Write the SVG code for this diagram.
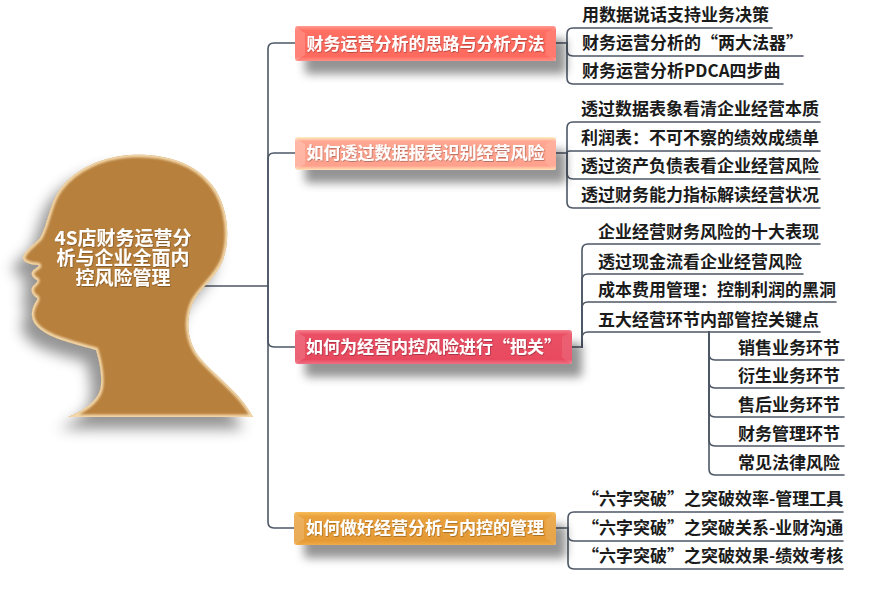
<svg xmlns="http://www.w3.org/2000/svg" width="881" height="594" viewBox="0 0 881 594">
<style>
.ln{fill:none;stroke:#4d5765;stroke-width:1.6;stroke-linecap:round}
.st{font-family:"Noto Sans CJK SC","Noto Sans",sans-serif;font-size:17px;font-weight:700;fill:#1b1b1b}
.bt{font-family:"Noto Sans CJK SC","Noto Sans",sans-serif;font-size:17px;font-weight:700;fill:#ffffff;text-anchor:middle}
.ht{font-family:"Noto Sans CJK SC","Noto Sans",sans-serif;font-size:19px;font-weight:700;fill:#ffffff;text-anchor:middle}
.q{font-feature-settings:"fwid"}
</style>
<defs>
<linearGradient id="g1" x1="0" y1="0" x2="0" y2="1"><stop offset="0" stop-color="#ff9c92"/><stop offset=".13" stop-color="#ff6f63"/><stop offset=".87" stop-color="#ff6a5e"/><stop offset="1" stop-color="#ff8f86"/></linearGradient>
<linearGradient id="g2" x1="0" y1="0" x2="0" y2="1"><stop offset="0" stop-color="#fff1c4"/><stop offset=".13" stop-color="#ffa792"/><stop offset=".87" stop-color="#ffa08c"/><stop offset="1" stop-color="#ffe3b8"/></linearGradient>
<linearGradient id="g3" x1="0" y1="0" x2="0" y2="1"><stop offset="0" stop-color="#f5808f"/><stop offset=".13" stop-color="#ea5065"/><stop offset=".87" stop-color="#e84a5f"/><stop offset="1" stop-color="#f07085"/></linearGradient>
<linearGradient id="g4" x1="0" y1="0" x2="0" y2="1"><stop offset="0" stop-color="#f8bd5a"/><stop offset=".13" stop-color="#eaa23e"/><stop offset=".87" stop-color="#e59a35"/><stop offset="1" stop-color="#f0ab48"/></linearGradient>
<filter id="sh" x="-10%" y="-50%" width="130%" height="250%"><feDropShadow dx="10" dy="13" stdDeviation="5" flood-color="#000" flood-opacity=".42"/></filter>
<filter id="hs" x="-30%" y="-20%" width="150%" height="150%"><feDropShadow dx="-10" dy="12" stdDeviation="7" flood-color="#000" flood-opacity=".42"/></filter>
<filter id="ts" x="-5%" y="-30%" width="110%" height="160%"><feDropShadow dx=".6" dy=".8" stdDeviation=".6" flood-color="#000" flood-opacity=".35"/></filter>
<filter id="bl"><feGaussianBlur stdDeviation="1.2"/></filter>
<path id="headp" d="M130,155 C165,153 195,163 212,185 C228,205 231,238 223,260 C216,278 200,288 193,302 C185,320 187,342 200,358 C215,376 240,392 253,417 L68,417 C85,410 100,400 101,385 C102,372 99,360 96,350 C80,345 55,340 43,331 C33,325 30,316 33,308 C35,302 38,300 37,298 C32,295 30,290 33,286 C36,283 38,282 37,280 C31,277 30,272 35,269 C38,267 40,266 38,265 C30,265 22,262 23,257 C25,250 35,244 40,238 C48,225 50,200 62,187 C75,170 100,157 130,155 Z"/>
<clipPath id="hc"><use href="#headp"/></clipPath>
</defs>
<rect width="881" height="594" fill="#ffffff"/>

<g id="connectors">
<path class="ln" d="M196,286 H268"/>
<path class="ln" d="M268,286 V49 Q268,43 274,43 H295"/>
<path class="ln" d="M268,286 V159 Q268,153 274,153 H295"/>
<path class="ln" d="M268,286 V341 Q268,347 274,347 H295"/>
<path class="ln" d="M268,286 V522 Q268,528 274,528 H294"/>

<path class="ln" d="M556,43 H567"/>
<path class="ln" d="M567,43 V34 Q567,28 573,28 H772"/>
<path class="ln" d="M567,43 V50 Q567,56 573,56 H803"/>
<path class="ln" d="M567,43 V78 Q567,84 573,84 H783"/>

<path class="ln" d="M556,153 H567"/>
<path class="ln" d="M567,153 V128 Q567,122 573,122 H820"/>
<path class="ln" d="M567,153 Q567,151 570,151 H820"/>
<path class="ln" d="M567,153 V173 Q567,179 573,179 H820"/>
<path class="ln" d="M567,153 V202 Q567,208 573,208 H820"/>

<path class="ln" d="M572,347 H582"/>
<path class="ln" d="M582,347 V250 Q582,244 588,244 H820"/>
<path class="ln" d="M582,347 V280 Q582,274 588,274 H803"/>
<path class="ln" d="M582,347 V308 Q582,302 588,302 H836"/>
<path class="ln" d="M582,347 V338 Q582,332 588,332 H820"/>

<path class="ln" d="M709,332 V354 Q709,360 715,360 H844"/>
<path class="ln" d="M709,332 V382 Q709,388 715,388 H844"/>
<path class="ln" d="M709,332 V411 Q709,417 715,417 H844"/>
<path class="ln" d="M709,332 V440 Q709,446 715,446 H844"/>
<path class="ln" d="M709,332 V469 Q709,475 715,475 H844"/>

<path class="ln" d="M556,528 H568"/>
<path class="ln" d="M568,528 V518 Q568,512 574,512 H843"/>
<path class="ln" d="M568,528 V535 Q568,541 574,541 H843"/>
<path class="ln" d="M568,528 V563 Q568,569 574,569 H843"/>
</g>

<g id="root">
<use href="#headp" fill="#b8803c" filter="url(#hs)"/>
<g clip-path="url(#hc)"><use href="#headp" fill="none" stroke="#fde6bd" stroke-width="5" opacity=".85" filter="url(#bl)"/></g>
<g filter="url(#ts)">
<text class="ht" x="123" y="245">4S店财务运营分</text>
<text class="ht" x="123" y="265">析与企业全面内</text>
<text class="ht" x="123" y="285">控风险管理</text>
</g>
</g>

<g id="b1">
<rect x="295" y="26" width="261" height="35" rx="3" fill="url(#g1)" filter="url(#sh)"/>
<path d="M295,27 l10,6 v22 l-10,6 z" fill="#fff" opacity=".16"/>
<path d="M556,27 l-10,6 v22 l10,6 z" fill="#fff" opacity=".1"/>
<text class="bt" x="425.5" y="50" filter="url(#ts)">财务运营分析的思路与分析方法</text>
</g>
<g id="b2">
<rect x="295" y="137" width="261" height="33" rx="3" fill="url(#g2)" filter="url(#sh)"/>
<path d="M295,138 l10,6 v20 l-10,6 z" fill="#fff" opacity=".2"/>
<path d="M556,138 l-10,6 v20 l10,6 z" fill="#fff" opacity=".1"/>
<text class="bt" x="425.5" y="159" filter="url(#ts)">如何透过数据报表识别经营风险</text>
</g>
<g id="b3">
<rect x="295" y="330" width="277" height="34" rx="3" fill="url(#g3)" filter="url(#sh)"/>
<path d="M295,331 l10,6 v21 l-10,6 z" fill="#fff" opacity=".14"/>
<path d="M572,331 l-10,6 v21 l10,6 z" fill="#fff" opacity=".1"/>
<text class="bt" x="433.5" y="353" filter="url(#ts)">如何为经营内控风险进行<tspan class="q">“</tspan>把关<tspan class="q">”</tspan></text>
</g>
<g id="b4">
<rect x="294" y="512" width="262" height="33" rx="3" fill="url(#g4)" filter="url(#sh)"/>
<path d="M294,513 l10,6 v20 l-10,6 z" fill="#fff" opacity=".16"/>
<path d="M556,513 l-10,6 v20 l10,6 z" fill="#fff" opacity=".1"/>
<text class="bt" x="425" y="534" filter="url(#ts)">如何做好经营分析与内控的管理</text>
</g>

<g id="t1">
<text class="st" x="582" y="21">用数据说话支持业务决策</text>
<text class="st" x="582" y="49">财务运营分析的<tspan class="q">“</tspan>两大法器<tspan class="q">”</tspan></text>
<text class="st" x="582" y="77">财务运营分析PDCA四步曲</text>
</g>
<g id="t2">
<text class="st" x="581" y="115">透过数据表象看清企业经营本质</text>
<text class="st" x="581" y="144">利润表：不可不察的绩效成绩单</text>
<text class="st" x="581" y="172">透过资产负债表看企业经营风险</text>
<text class="st" x="581" y="201">透过财务能力指标解读经营状况</text>
</g>
<g id="t3">
<text class="st" x="598" y="238">企业经营财务风险的十大表现</text>
<text class="st" x="598" y="268">透过现金流看企业经营风险</text>
<text class="st" x="598" y="296">成本费用管理：控制利润的黑洞</text>
<text class="st" x="598" y="326">五大经营环节内部管控关键点</text>
</g>
<g id="t3s">
<text class="st" x="738" y="354">销售业务环节</text>
<text class="st" x="738" y="382">衍生业务环节</text>
<text class="st" x="738" y="411">售后业务环节</text>
<text class="st" x="738" y="440">财务管理环节</text>
<text class="st" x="738" y="469">常见法律风险</text>
</g>
<g id="t4">
<text class="st" x="582" y="505"><tspan class="q">“</tspan>六字突破<tspan class="q">”</tspan>之突破效率-管理工具</text>
<text class="st" x="582" y="534"><tspan class="q">“</tspan>六字突破<tspan class="q">”</tspan>之突破关系-业财沟通</text>
<text class="st" x="582" y="562"><tspan class="q">“</tspan>六字突破<tspan class="q">”</tspan>之突破效果-绩效考核</text>
</g>
</svg>
